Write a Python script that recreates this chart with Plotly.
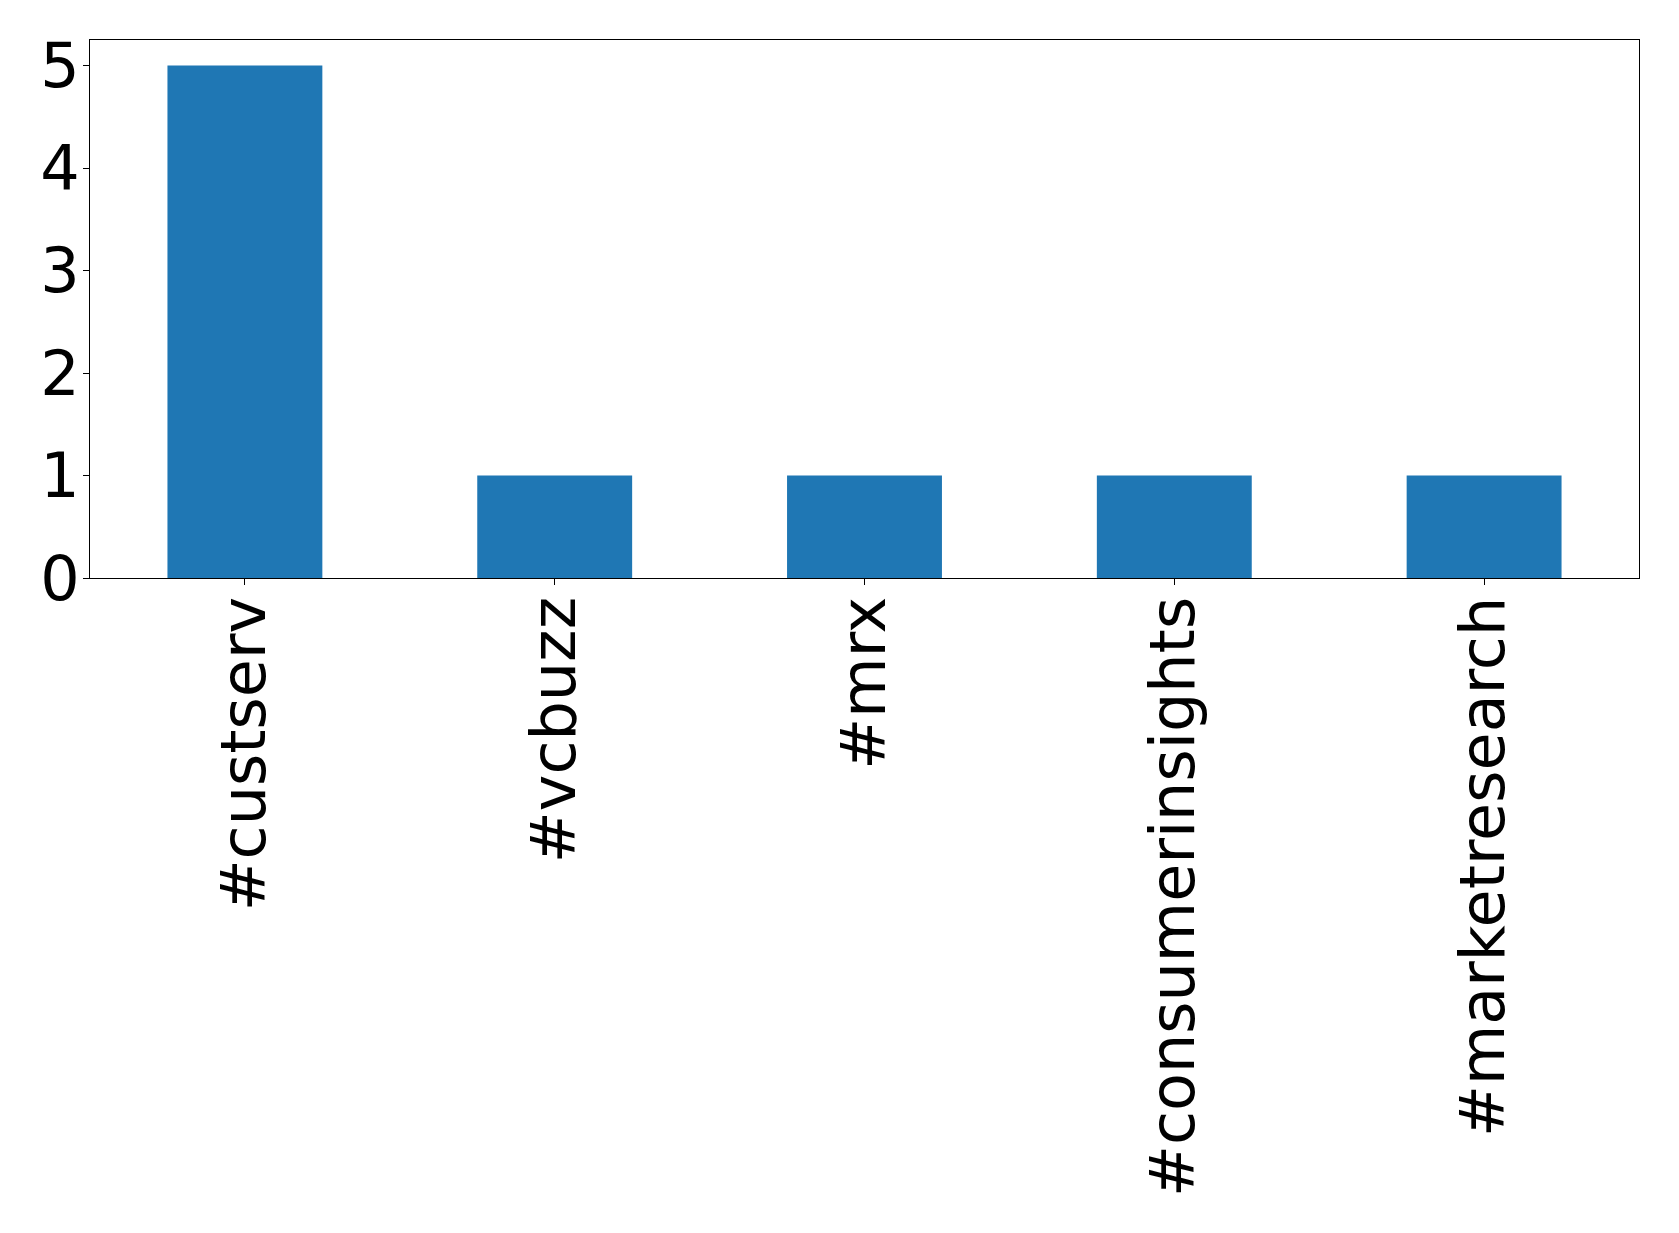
import plotly.graph_objects as go

categories = ["#custserv", "#vcbuzz", "#mrx", "#consumerinsights", "#marketresearch"]
counts = [5, 1, 1, 1, 1]
y_ticks = [0, 1, 2, 3, 4, 5]

fig = go.Figure(
    go.Bar(
        x=list(range(len(categories))),
        y=counts,
        width=0.5,
        marker=dict(color="#1f77b4", line=dict(width=0)),
    )
)

# page body has an 8px default margin, so the figure is sized to fit inside it
fig.update_layout(
    width=1663,
    height=1217,
    margin=dict(l=82, r=32, t=32, b=647),
    paper_bgcolor="white",
    plot_bgcolor="white",
    showlegend=False,
    font=dict(family="DejaVu Sans", size=62, color="black"),
)

fig.update_xaxes(
    range=[-0.5, len(categories) - 0.5],
    tickmode="array",
    tickvals=list(range(len(categories))),
    ticktext=categories,
    tickangle=-90,
    ticks="outside",
    ticklen=6,
    tickwidth=1,
    tickcolor="black",
    ticklabelstandoff=-13,
    showline=True,
    linecolor="black",
    linewidth=1,
    mirror=True,
    showgrid=False,
    zeroline=False,
    automargin=False,
    tickfont=dict(family="DejaVu Sans", size=62, color="black"),
)

fig.update_yaxes(
    range=[0, 5.25],
    tickmode="array",
    tickvals=y_ticks,
    ticktext=[str(v) for v in y_ticks],
    ticks="outside",
    ticklen=6,
    tickwidth=1,
    tickcolor="black",
    ticklabelstandoff=-9,
    showline=True,
    linecolor="black",
    linewidth=1,
    mirror=True,
    showgrid=False,
    zeroline=False,
    automargin=False,
    tickfont=dict(family="DejaVu Sans", size=62, color="black"),
)

fig.write_html("out.html")
